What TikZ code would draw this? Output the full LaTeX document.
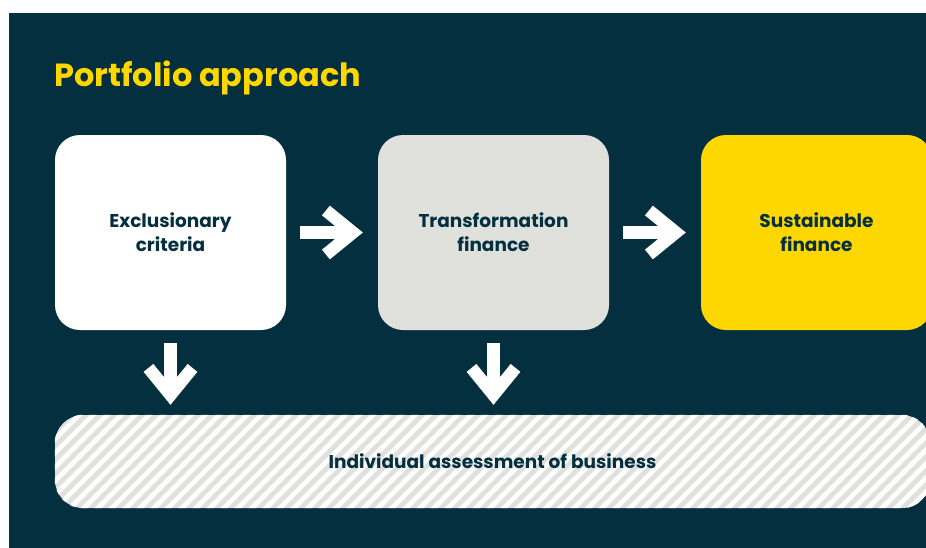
\documentclass[tikz,border=0pt]{standalone}
\usepackage{fontspec}
\setmainfont{Poppins}
\usepackage{tikz}
\usetikzlibrary{calc,positioning,arrows.meta}
\definecolor{navy}{RGB}{3,47,62}
\definecolor{sunyellow}{RGB}{255,215,0}
\definecolor{lightgrey}{RGB}{224,224,220}
\tikzstyle{stepbox}   = [rounded corners=25pt, minimum width=231pt, minimum height=195pt, align=center, text=navy, font=\bfseries\fontsize{18.5}{24}\selectfont]
\tikzstyle{arrow}     = [white, line width=12.5pt, -{Straight Barb[length=27pt,width=44pt]}]

\begin{document}
\begin{tikzpicture}[x=1pt,y=-1pt]
		\clip (0,0) rectangle (926,547);
		\fill[navy] (9,13) rectangle (930,550);

		\node[anchor=base west, inner sep=0pt, text=sunyellow, font=\bfseries\fontsize{32}{36}\selectfont] (title) at (54,86) {Portfolio approach};

		\node[stepbox, fill=white] (excl) at (170.5,232.5) {Exclusionary\\criteria};
		\node[stepbox, fill=lightgrey] (trans) at (493.5,232.5) {Transformation\\finance};
		\node[stepbox, fill=sunyellow] (sust) at (816.5,232.5) {Sustainable\\finance};

		% hatched bar
		\node[rounded corners=28pt, minimum width=875pt, minimum height=93pt, fill=lightgrey] (assess) at (492.5,461.5) {};
		\begin{scope}
			\clip[rounded corners=28pt] (assess.south west) rectangle (assess.north east);
			\foreach \i in {-100,-86,...,1000}
				\draw[white, line width=4.8pt] (\i,510) -- ++(100,-100);
		\end{scope}
		\node[text=navy, font=\bfseries\fontsize{18.5}{24}\selectfont] at (assess.center) {Individual assessment of business};

		\draw[arrow] ([xshift=14pt]excl.east) -- ([xshift=-15pt]trans.west);
		\draw[arrow] ([xshift=14pt]trans.east) -- ([xshift=-15pt]sust.west);
		\draw[arrow] ([yshift=-13pt]excl.south) -- ($(excl.south |- assess.north)+(0,-10)$);
		\draw[arrow] ([yshift=-13pt]trans.south) -- ($(trans.south |- assess.north)+(0,-10)$);
	\end{tikzpicture}
\end{document}
